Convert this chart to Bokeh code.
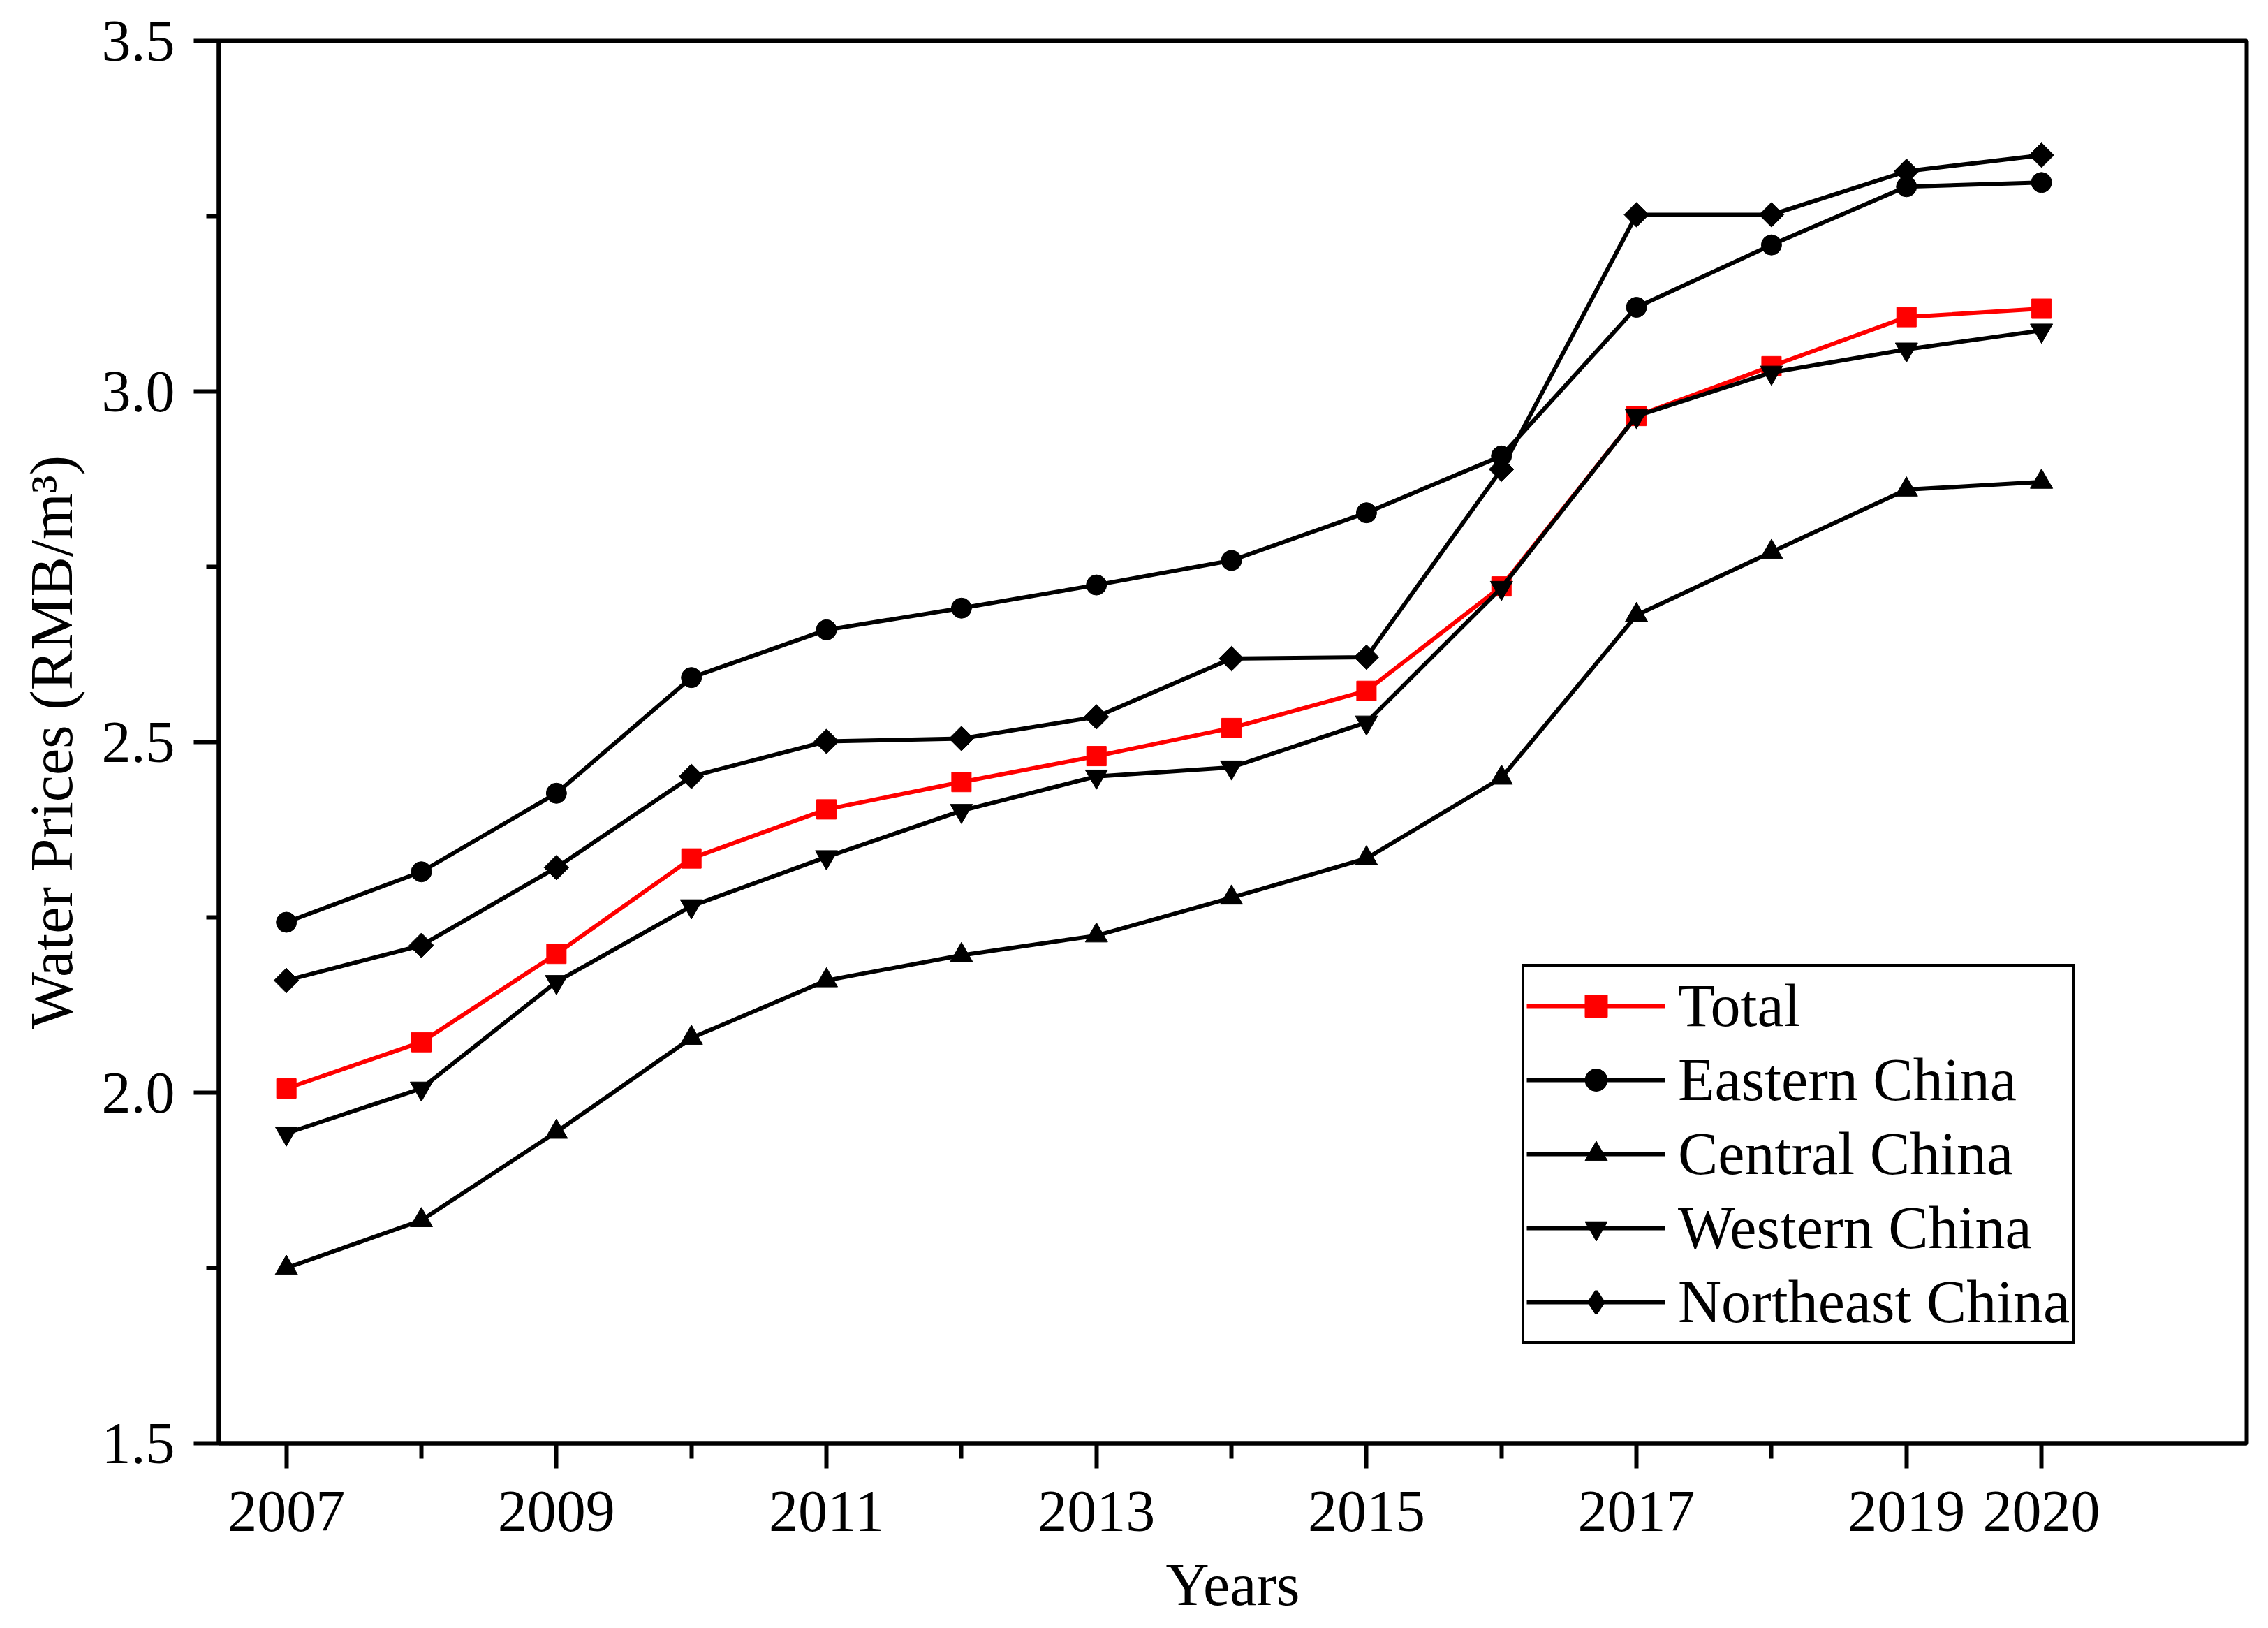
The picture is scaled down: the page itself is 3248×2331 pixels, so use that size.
from bokeh.plotting import figure
from bokeh.models import FixedTicker, PrintfTickFormatter, Range1d, Legend
from bokeh.embed import file_html
from bokeh.resources import INLINE
import math

years = [2007, 2008, 2009, 2010, 2011, 2012, 2013, 2014, 2015, 2016, 2017, 2018, 2019, 2020]
total = [2.006, 2.072, 2.198, 2.334, 2.404, 2.443, 2.480, 2.520, 2.573, 2.722, 2.965, 3.036, 3.106, 3.118]
eastern = [2.243, 2.315, 2.427, 2.592, 2.660, 2.691, 2.724, 2.759, 2.827, 2.908, 3.120, 3.209, 3.292, 3.298]
central = [1.750, 1.818, 1.944, 2.078, 2.160, 2.196, 2.224, 2.278, 2.334, 2.449, 2.681, 2.771, 2.860, 2.871]
western = [1.942, 2.006, 2.158, 2.266, 2.336, 2.402, 2.451, 2.464, 2.528, 2.720, 2.965, 3.027, 3.060, 3.087]
northeast = [2.160, 2.210, 2.321, 2.451, 2.501, 2.505, 2.536, 2.619, 2.621, 2.889, 3.252, 3.252, 3.314, 3.337]

x_major = [2007, 2009, 2011, 2013, 2015, 2017, 2019, 2020]
x_minor = [2008, 2010, 2012, 2014, 2016, 2018]
y_major = [1.5, 2.0, 2.5, 3.0, 3.5]
y_minor = [1.75, 2.25, 2.75, 3.25]

FONT = "Liberation Serif"

p = figure(width=3240, height=2323, output_backend="svg", toolbar_location=None,
           x_range=Range1d(2006.5, 2021.52), y_range=Range1d(1.5, 3.5),
           min_border_left=313, min_border_right=23, min_border_top=58, min_border_bottom=257)
p.background_fill_color = "white"
p.border_fill_color = "white"
p.xgrid.visible = False
p.ygrid.visible = False
p.outline_line_color = "black"
p.outline_line_width = 6
p.outline_line_alpha = 1

for ax in (p.xaxis[0], p.yaxis[0]):
    ax.axis_line_width = 6
    ax.axis_line_color = "black"
    ax.major_tick_line_width = 6
    ax.minor_tick_line_width = 6
    ax.major_tick_in = 0
    ax.minor_tick_in = 0
    ax.major_tick_out = 36
    ax.major_label_text_font = FONT
    ax.major_label_text_font_size = "84px"
    ax.major_label_text_color = "black"
    ax.major_label_text_line_height = 1.0
    ax.axis_label_text_font = FONT
    ax.axis_label_text_font_size = "86px"
    ax.axis_label_text_font_style = "normal"
    ax.axis_label_text_color = "black"
    ax.axis_label_text_line_height = 1.0

p.xaxis[0].ticker = FixedTicker(ticks=x_major, minor_ticks=x_minor)
p.xaxis[0].formatter = PrintfTickFormatter(format="%d")
p.xaxis[0].minor_tick_out = 22
p.xaxis[0].major_label_standoff = 33
p.xaxis[0].axis_label = "Years"
p.xaxis[0].axis_label_standoff = 26

p.yaxis[0].ticker = FixedTicker(ticks=y_major, minor_ticks=y_minor)
p.yaxis[0].formatter = PrintfTickFormatter(format="%.1f")
p.yaxis[0].minor_tick_out = 18
p.yaxis[0].major_label_standoff = 27
p.yaxis[0].axis_label = "Water Prices (RMB/m³)"
p.yaxis[0].axis_label_standoff = 21

series = [
    ("Total", total, "#FF0000", "square", 28, 0),
    ("Eastern China", eastern, "black", "circle", 29, 0),
    ("Central China", central, "black", "triangle", 32, 0),
    ("Western China", western, "black", "inverted_triangle", 32, 0),
    ("Northeast China", northeast, "black", "square", 25, math.pi / 4),
]

items = []
for name, vals, color, marker, size, ang in series:
    l = p.line(years, vals, line_color=color, line_width=6)
    s = p.scatter(years, vals, marker=marker, size=size, angle=ang,
                  fill_color=color, line_color=color, line_width=1)
    if ang:
        # legend swatch: upright diamond (legend glyphs ignore the angle)
        s = p.scatter([float("nan")], [float("nan")], marker="diamond", size=size,
                      fill_color=color, line_color=color, line_width=4)
    items.append((name, [l, s]))

legend = Legend(items=items, location=(1866, 142))
legend.label_text_font = FONT
legend.label_text_font_size = "86px"
legend.label_text_color = "black"
legend.glyph_width = 199
legend.glyph_height = 80
legend.label_height = 106
legend.label_standoff = 18
legend.spacing = 0
legend.padding = 3
legend.margin = 0
legend.border_line_color = "black"
legend.border_line_alpha = 1
legend.border_line_width = 4
legend.background_fill_color = "white"
legend.background_fill_alpha = 1
p.add_layout(legend, "center")

open("out.html", "w").write(file_html(p, INLINE))
